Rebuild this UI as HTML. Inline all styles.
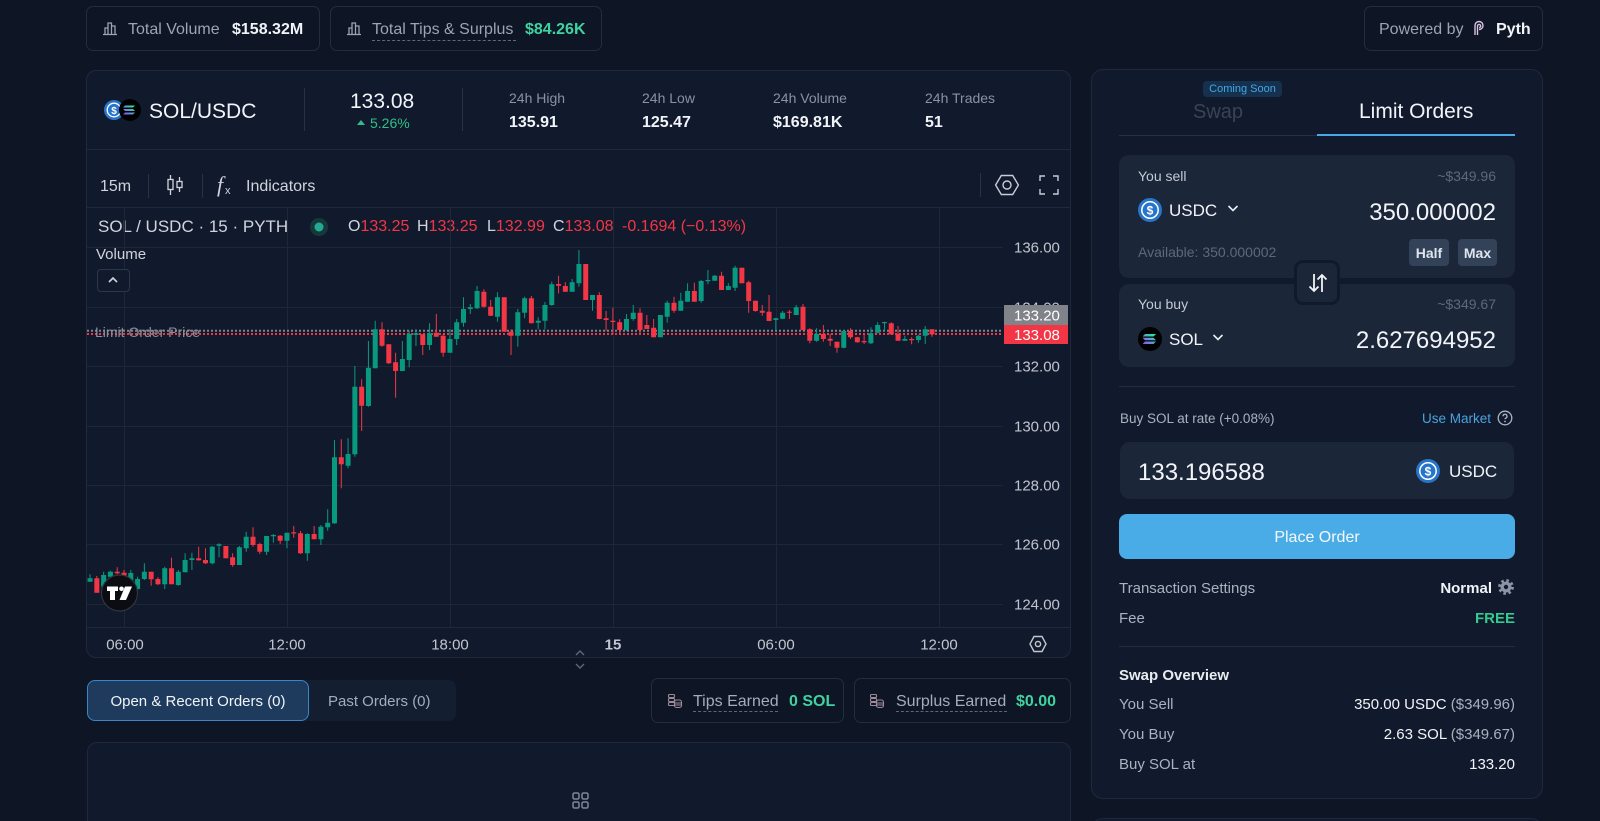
<!DOCTYPE html>
<html><head><meta charset="utf-8">
<style>
*{box-sizing:border-box;margin:0;padding:0}
html,body{width:1600px;height:821px;overflow:hidden;background:#0e1525}
body{font-family:"Liberation Sans",Arial,sans-serif;color:#e8ecf1}
#root{position:relative;width:1600px;height:821px;overflow:hidden;background:#0e1525}
.a{position:absolute}
.t{position:absolute;white-space:nowrap;line-height:20px;height:20px}
.box{position:absolute;border:1px solid #222d40;border-radius:7px}
.card{position:absolute;border:1px solid #1f293b;background:#111a2c;border-radius:10px}
.hl{position:absolute;height:1px;background:#1f293b}
.vl{position:absolute;width:1px;background:#283246}
.r{text-align:right}
</style></head><body><div id="root">

<!-- top stat boxes -->
<div class="box" style="left:86px;top:6px;width:234px;height:45px"></div>
<svg class="a" style="left:102px;top:20px" width="16" height="16" viewBox="0 0 16 16"><path d="M1 14.5h14M3 14V8h3v6M6 14V3h3.5v11M9.5 14V6H13v8" fill="none" stroke="#9aa5b5" stroke-width="1.3"/></svg>
<div class="t" style="left:128px;top:20px;font-size:16px;color:#9aa5b5">Total Volume</div>
<div class="t" style="left:232px;top:20px;font-size:16px;font-weight:bold;color:#f1f4f8">$158.32M</div>

<div class="box" style="left:330px;top:6px;width:272px;height:45px"></div>
<svg class="a" style="left:346px;top:20px" width="16" height="16" viewBox="0 0 16 16"><path d="M1 14.5h14M3 14V8h3v6M6 14V3h3.5v11M9.5 14V6H13v8" fill="none" stroke="#9aa5b5" stroke-width="1.3"/></svg>
<div class="t" style="left:372px;top:20px;font-size:16px;color:#9aa5b5">Total Tips &amp; Surplus</div>
<div class="a" style="left:372px;top:40px;width:144px;border-top:1px dashed #5d6878"></div>
<div class="t" style="left:525px;top:20px;font-size:16px;font-weight:bold;color:#3fd3a0">$84.26K</div>

<div class="box" style="left:1364px;top:6px;width:179px;height:45px"></div>
<div class="t" style="left:1379px;top:20px;font-size:16px;color:#9aa5b5">Powered by</div>
<svg class="a" style="left:1472px;top:20px" width="14" height="16" viewBox="0 0 14 16"><path d="M3 15V5.5a4 4 0 1 1 4 4M5.5 15V6a1.6 1.6 0 1 1 1.6 1.6" fill="none" stroke="#d7c3df" stroke-width="1.4"/></svg>
<div class="t" style="left:1496px;top:20px;font-size:16px;font-weight:bold;color:#f1f4f8">Pyth</div>

<!-- chart card -->
<div class="card" style="left:86px;top:70px;width:985px;height:588px"></div>
<div class="hl" style="left:87px;top:149px;width:983px"></div>
<div class="hl" style="left:87px;top:207px;width:983px"></div>

<svg class="a" style="left:100px;top:96px" width="44" height="28" viewBox="0 0 44 28">
<defs><linearGradient id="sg" x1="0" y1="1" x2="1" y2="0"><stop offset="0" stop-color="#9945ff"/><stop offset="1" stop-color="#19fb9b"/></linearGradient></defs>
<circle cx="14" cy="14" r="10" fill="#2775ca"/><circle cx="14" cy="14" r="6.8" fill="none" stroke="#fff" stroke-width="1.3"/>
<text x="14" y="18" font-size="10" font-weight="bold" fill="#fff" text-anchor="middle" font-family="Liberation Sans">$</text>
<circle cx="30" cy="14" r="11" fill="#000"/>
<path d="M25 9.5h10l-2 2H23zM23 13h10l2 2H25zM25 16.5h10l-2 2H23z" fill="url(#sg)"/>
</svg>
<div class="t" style="left:149px;top:101px;line-height:22px;height:22px;font-size:21px;color:#f1f4f8">SOL/USDC</div>
<div class="vl" style="left:304px;top:88px;height:43px"></div>
<div class="t" style="left:350px;top:91px;line-height:22px;height:22px;font-size:21px;color:#f1f4f8">133.08</div>
<svg class="a" style="left:356px;top:118px" width="10" height="8" viewBox="0 0 10 8"><path d="M1 7L5 2L9 7z" fill="#2fbf89"/></svg>
<div class="t" style="left:370px;top:113px;font-size:14px;color:#2fbf89">5.26%</div>
<div class="vl" style="left:462px;top:88px;height:43px"></div>

<div class="t" style="left:509px;top:88px;font-size:14px;color:#8792a4">24h High</div>
<div class="t" style="left:509px;top:113px;font-size:16px;font-weight:bold;color:#f1f4f8">135.91</div>
<div class="t" style="left:642px;top:88px;font-size:14px;color:#8792a4">24h Low</div>
<div class="t" style="left:642px;top:113px;font-size:16px;font-weight:bold;color:#f1f4f8">125.47</div>
<div class="t" style="left:773px;top:88px;font-size:14px;color:#8792a4">24h Volume</div>
<div class="t" style="left:773px;top:113px;font-size:16px;font-weight:bold;color:#f1f4f8">$169.81K</div>
<div class="t" style="left:925px;top:88px;font-size:14px;color:#8792a4">24h Trades</div>
<div class="t" style="left:925px;top:113px;font-size:16px;font-weight:bold;color:#f1f4f8">51</div>

<!-- toolbar -->
<div class="t" style="left:100px;top:177px;font-size:16px;color:#d1d4dc">15m</div>
<div class="vl" style="left:148px;top:174px;height:24px;background:#2a3345"></div>
<svg class="a" style="left:165px;top:173px" width="20" height="24" viewBox="0 0 20 24"><path d="M5.5 2v20M14.5 4v15" stroke="#d1d4dc" stroke-width="1.3"/><rect x="3" y="6.5" width="5" height="10" fill="#111a2c" stroke="#d1d4dc" stroke-width="1.3"/><rect x="12" y="8.5" width="5" height="6" fill="#111a2c" stroke="#d1d4dc" stroke-width="1.3"/></svg>
<div class="vl" style="left:202px;top:174px;height:24px;background:#2a3345"></div>
<div class="t" style="left:217px;top:172px;line-height:26px;height:26px;font-size:22px;font-style:italic;font-family:'Liberation Serif',serif;color:#d1d4dc">f</div>
<div class="t" style="left:225px;top:181px;font-size:11px;color:#d1d4dc">x</div>
<div class="t" style="left:246px;top:177px;font-size:16px;color:#d1d4dc">Indicators</div>
<div class="vl" style="left:980px;top:173px;height:24px;background:#2a3345"></div>
<svg class="a" style="left:994px;top:172px" width="26" height="26" viewBox="0 0 26 26"><path d="M7.3 3.5h11.4l5.7 9.5-5.7 9.5H7.3L1.6 13z" fill="none" stroke="#c8ccd4" stroke-width="1.4"/><circle cx="13" cy="13" r="4" fill="none" stroke="#c8ccd4" stroke-width="1.4"/></svg>
<svg class="a" style="left:1039px;top:175px" width="20" height="20" viewBox="0 0 20 20"><path d="M1 6V1h5M14 1h5v5M19 14v5h-5M6 19H1v-5" fill="none" stroke="#c8ccd4" stroke-width="1.4"/></svg>

<!-- legend -->
<div class="t" style="left:98px;top:217px;font-size:17px;color:#d1d4dc">SOL / USDC · 15 · PYTH</div>
<svg class="a" style="left:309px;top:217px" width="20" height="20" viewBox="0 0 20 20"><circle cx="10" cy="10" r="9" fill="#17383a"/><circle cx="10" cy="10" r="4.5" fill="#22ab94"/></svg>
<div class="t" style="left:348px;top:217px;font-size:16px;color:#d1d4dc">O<span style="color:#f23645">133.25</span></div>
<div class="t" style="left:417px;top:217px;font-size:16px;color:#d1d4dc">H<span style="color:#f23645">133.25</span></div>
<div class="t" style="left:487px;top:217px;font-size:16px;color:#d1d4dc">L<span style="color:#f23645">132.99</span></div>
<div class="t" style="left:553px;top:217px;font-size:16px;color:#d1d4dc">C<span style="color:#f23645">133.08</span></div>
<div class="t" style="left:622px;top:217px;font-size:16px;color:#f23645">-0.1694 (−0.13%)</div>

<!-- chart svg -->
<svg class="a" style="left:87px;top:208px" width="983" height="449" viewBox="87 208 983 449">
<defs><clipPath id="pc"><rect x="87" y="208" width="916" height="419"/></clipPath></defs>
<g stroke="#1e2737" stroke-width="1">
<path d="M87 247.5H1003M87 307.5H1003M87 366.5H1003M87 426.5H1003M87 485.5H1003M87 544.5H1003M87 604.5H1003"/>
<path d="M124.5 208V627M287.5 208V627M450.5 208V627M613.5 208V627M776.5 208V627M939.5 208V627"/>
</g>
<path d="M87 627.5H1070" stroke="#1f293b"/>
<g clip-path="url(#pc)">
<path d="M87 330.7H1003" stroke="#80848e" stroke-width="2" stroke-dasharray="2 2"/>
<path d="M87 334H1003" stroke="#f23645" stroke-width="2" stroke-dasharray="2 2"/>
<path stroke="#089981" stroke-width="1" fill="none" d="M90.05 574.3V581.7M103.63 571.7V588.3M110.42 570.7V576.7M130.79 570V583M137.58 576.7V590M144.37 563.3V580M164.74 566.7V589M178.32 570V585.7M185.11 553.3V572.3M191.9 552.7V570M212.27 546V564.3M219.06 543.3V557.3M239.43 546V565M246.22 531.7V551.7M266.59 536V555M273.38 534V542.7M286.96 532.7V548.3M307.33 533.3V560.7M320.91 525V545M327.7 509.3V530.7M334.49 440V524M348.07 438.3V468.3M354.86 366V456.7M368.44 341V406.7M375.23 320.7V368.3M402.39 341V371M409.18 330.7V367.3M415.97 329.3V346M429.55 323.3V350M449.92 329.3V352.7M456.71 319V345M463.5 297.3V326.7M470.29 304V314M477.08 286V309M497.45 292.3V321.7M517.82 309V346.7M524.61 296.7V318.3M538.19 317.3V329.3M544.98 302V329.3M551.77 281.7V305.7M572.14 279V291.7M578.93 250V286.7M592.51 295V310.7M626.46 314V330.7M633.25 305V320.7M660.41 315V337.3M667.2 300.7V322.7M680.78 292.7V310.7M687.57 283.3V301.7M701.15 280V302.7M707.94 270V284.3M714.73 275V280.7M728.31 283.3V290M735.1 265.7V291M775.84 317.7V330.7M782.63 311V319.3M796.21 305V315M816.58 328.3V341.7M843.74 330V348.3M870.9 327.3V344M877.69 322.3V333.3M884.48 321.7V331.7M904.85 335.7V340.7M918.43 335V342.7M925.22 326V344"/>
<path stroke="#089981" stroke-width="5" fill="none" d="M90.05 578.3V581.7M103.63 575V586.7M110.42 571.7V576.7M130.79 573V580M137.58 579V589M144.37 571.7V579M164.74 568.3V584.3M178.32 571.7V585M185.11 560V572.3M191.9 558.3V560M212.27 546.7V563.3M219.06 544.3V545.7M239.43 547.3V565M246.22 536.7V548.3M266.59 536V551.7M273.38 535V536.2M286.96 532.7V540.7M307.33 534V553.3M320.91 526.7V539.3M327.7 522.7V527.3M334.49 457.3V523.3M348.07 454V465.7M354.86 386.7V454.3M368.44 367.7V406M375.23 329.3V368.3M402.39 359V371M409.18 334V360M415.97 333.3V335M429.55 333.3V345M449.92 339V352.7M456.71 322.3V339M463.5 309V322.7M470.29 307.3V309M477.08 291V308.3M497.45 297.3V316.7M517.82 312.3V335.7M524.61 298.3V312.7M538.19 320.7V322.7M544.98 305V320.7M551.77 284.3V305M572.14 282.3V291.7M578.93 264V283.3M592.51 295V300M626.46 319V330M633.25 312.7V319M660.41 315V337.3M667.2 302.7V316.7M680.78 300.7V310.7M687.57 291V301.7M701.15 281V301M707.94 280V281.2M714.73 275.7V280.7M728.31 286V290M735.1 267.7V287.7M775.84 318.3V320M782.63 312.7V318.7M796.21 307.3V315M816.58 334V340.7M843.74 331V347.7M870.9 333.3V343.3M877.69 325V332.7M884.48 322V323.2M904.85 339V340.7M918.43 335.7V340M925.22 329.3V335.7"/>
<path stroke="#f23645" stroke-width="1" fill="none" d="M96.84 576V592.7M117.21 567.3V574.3M124 570V578.3M151.16 571.7V585.7M157.95 577.3V585M171.53 557.7V584.3M198.69 546.7V560.7M205.48 548.3V564M225.85 546V558.3M232.64 553.3V566.7M253.01 527.3V546.7M259.8 542.7V554M280.17 535V544M293.75 526V537.7M300.54 531V554M314.12 526V539.3M341.28 439.3V488.3M361.65 379.3V431M382.02 322.3V346.7M388.81 344.3V364M395.6 352.7V397.7M422.76 334.3V355M436.34 314V336.7M443.13 334V356.7M483.87 289.3V307.7M490.66 300V316M504.24 297.3V331.7M511.03 329.3V355M531.4 296V323.3M558.56 275.7V293.3M565.35 282.3V291.7M585.72 264V300M599.3 292.3V319.3M606.09 311V330.7M612.88 307.7V334M619.67 319.3V334M640.04 308.3V333.3M646.83 315V329M653.62 319V337.3M673.99 296.7V312.7M694.36 282.7V301.7M721.52 271.7V290M741.89 267.7V283.3M748.68 280.7V312.7M755.47 300.7V311.7M762.26 305V315.7M769.05 295V321M789.42 310V319M803 304V330.7M809.79 328.3V343.3M823.37 325V341.7M830.16 334V346M836.95 341.7V352.7M850.53 328.3V339M857.32 336.7V342.7M864.11 334.3V344M891.27 322.3V335M898.06 326V340.7M911.64 337.3V344.3M932.01 329.3V336.7"/>
<path stroke="#f23645" stroke-width="5" fill="none" d="M96.84 578.3V592.7M117.21 571.7V573.3M124 572.7V576.7M151.16 571.7V579.3M157.95 579V584.3M171.53 568.3V584.3M198.69 558.3V560.3M205.48 560V563.3M225.85 546V558.3M232.64 557.3V565M253.01 536.7V545M259.8 544V551.7M280.17 535.7V540.7M293.75 532.3V533.5M300.54 533.3V553.3M314.12 534V539.3M341.28 457.3V464.3M361.65 386.7V405.7M382.02 329.3V345.7M388.81 344.3V363.3M395.6 362.3V371M422.76 334.3V345M436.34 332.7V336.7M443.13 335.7V352.7M483.87 291.7V306.7M490.66 306.7V315.7M504.24 297.3V331.7M511.03 331.7V335.7M531.4 298.3V323.3M558.56 284V285.7M565.35 286V291.7M585.72 264V300M599.3 295V319M606.09 318.3V320M612.88 320.7V322M619.67 322.3V330M640.04 312.7V330M646.83 325V329M653.62 327.7V337.3M673.99 302.7V310.7M694.36 291V301.7M721.52 275.7V290M741.89 267.7V283.3M748.68 282.3V301M755.47 300.7V311M762.26 310.7V312.7M769.05 311.7V321M789.42 311.7V312.7M803 306.7V330M809.79 329.3V340.7M823.37 334V339M830.16 338.7V340.7M836.95 341.7V347.7M850.53 331V337.3M857.32 337.3V342.3M864.11 341V342.3M891.27 323.3V334.3M898.06 334V340.7M911.64 339V340.2M932.01 329.3V334.3"/>
</g>
<text x="95" y="337" font-family="Liberation Sans" font-size="14" fill="#8a8f99">Limit Order Price</text>
<g font-family="Liberation Sans" font-size="15" fill="#c0c4cc">
<text x="1014" y="252.5">136.00</text>
<text x="1014" y="312.5">134.00</text>
<text x="1014" y="371.5">132.00</text>
<text x="1014" y="431.5">130.00</text>
<text x="1014" y="490.5">128.00</text>
<text x="1014" y="549.5">126.00</text>
<text x="1014" y="609.5">124.00</text>
</g>
<rect x="1004" y="305" width="64" height="20" fill="#808389"/>
<rect x="1004" y="325" width="64" height="19" fill="#f23645"/>
<text x="1014" y="320.5" font-family="Liberation Sans" font-size="15" fill="#fff">133.20</text>
<text x="1014" y="340" font-family="Liberation Sans" font-size="15" fill="#fff">133.08</text>
<!-- TV logo -->
<circle cx="119.5" cy="593" r="18" fill="#0b0d12" stroke="#30363f" stroke-width="1.2"/>
<path d="M107 586.5h11v4.5h-3v9h-5v-9h-3z" fill="#fff"/>
<circle cx="121.5" cy="588.8" r="2.3" fill="#fff"/>
<path d="M125 586.5h7l-6 13.5h-6.5z" fill="#fff"/>
<!-- time axis -->
<g font-family="Liberation Sans" font-size="15" fill="#c2c6ce" text-anchor="middle">
<text x="125" y="649.5">06:00</text>
<text x="287" y="649.5">12:00</text>
<text x="450" y="649.5">18:00</text>
<text x="613" y="649.5" font-weight="bold">15</text>
<text x="776" y="649.5">06:00</text>
<text x="939" y="649.5">12:00</text>
</g>
<path d="M1034 636.5h8l4 7.5-4 7.5h-8l-4-7.5z" fill="none" stroke="#c2c6ce" stroke-width="1.4"/>
<circle cx="1038" cy="644" r="2.6" fill="none" stroke="#c2c6ce" stroke-width="1.4"/>
</svg>

<!-- Volume label & button -->
<div class="t" style="left:96px;top:245px;font-size:15px;color:#d1d4dc">Volume</div>
<div class="a" style="left:97px;top:269px;width:33px;height:23px;border:1px solid #2e3748;border-radius:4px;background:#111a2c"></div>
<svg class="a" style="left:107px;top:276px" width="12" height="8" viewBox="0 0 12 8"><path d="M2 6l4-4 4 4" fill="none" stroke="#d1d4dc" stroke-width="1.6"/></svg>

<!-- chevrons under chart -->
<svg class="a" style="left:574px;top:649px" width="12" height="22" viewBox="0 0 12 22"><path d="M2 6l4-4 4 4M2 15l4 4 4-4" fill="none" stroke="#5d6878" stroke-width="1.4"/></svg>

<!-- order tabs -->
<div class="a" style="left:87px;top:680px;width:369px;height:41px;background:#141e31;border-radius:8px"></div>
<div class="a" style="left:87px;top:680px;width:222px;height:41px;background:#1e3a5c;border:1px solid #3b86c6;border-radius:8px"></div>
<div class="t" style="left:87px;top:692px;width:222px;text-align:center;font-size:15px;color:#f1f4f8">Open &amp; Recent Orders (0)</div>
<div class="t" style="left:328px;top:692px;font-size:15px;color:#a3adbb">Past Orders (0)</div>

<div class="box" style="left:651px;top:678px;width:193px;height:45px"></div>
<svg class="a" style="left:667px;top:693px" width="16" height="16" viewBox="0 0 16 16"><g fill="none" stroke="#9d8a9a" stroke-width="1.1"><rect x="1.5" y="1.5" width="6" height="3" rx="1"/><rect x="1.5" y="5.5" width="6" height="3" rx="1"/><rect x="1.5" y="9.5" width="6" height="3" rx="1"/><rect x="7.5" y="7" width="7" height="7.5" rx="2"/><path d="M8 10h6M8 12h6"/></g></svg>
<div class="t" style="left:693px;top:692px;font-size:16px;color:#a3adbb">Tips Earned</div>
<div class="a" style="left:693px;top:711px;width:85px;border-top:1px dashed #5d6878"></div>
<div class="t" style="left:789px;top:692px;font-size:16px;font-weight:bold;color:#3fd3a0">0 SOL</div>

<div class="box" style="left:854px;top:678px;width:217px;height:45px"></div>
<svg class="a" style="left:869px;top:693px" width="16" height="16" viewBox="0 0 16 16"><g fill="none" stroke="#9d8a9a" stroke-width="1.1"><rect x="1.5" y="1.5" width="6" height="3" rx="1"/><rect x="1.5" y="5.5" width="6" height="3" rx="1"/><rect x="1.5" y="9.5" width="6" height="3" rx="1"/><rect x="7.5" y="7" width="7" height="7.5" rx="2"/><path d="M8 10h6M8 12h6"/></g></svg>
<div class="t" style="left:896px;top:692px;font-size:16px;color:#a3adbb">Surplus Earned</div>
<div class="a" style="left:896px;top:711px;width:111px;border-top:1px dashed #5d6878"></div>
<div class="t" style="left:1016px;top:692px;font-size:16px;font-weight:bold;color:#3fd3a0">$0.00</div>

<!-- bottom card -->
<div class="card" style="left:87px;top:742px;width:984px;height:100px"></div>
<svg class="a" style="left:572px;top:792px" width="17" height="17" viewBox="0 0 17 17"><g fill="none" stroke="#7d8797" stroke-width="1.5"><rect x="1" y="1" width="6" height="6" rx="1.5"/><rect x="10" y="1" width="6" height="6" rx="1.5"/><rect x="1" y="10" width="6" height="6" rx="1.5"/><rect x="10" y="10" width="6" height="6" rx="1.5"/></g></svg>

<!-- right panel -->
<div class="card" style="left:1091px;top:69px;width:452px;height:730px;border-radius:12px"></div>
<div class="card" style="left:1091px;top:818px;width:452px;height:30px;border-radius:12px"></div>
<div class="a" style="left:1203px;top:81px;width:79px;height:16px;background:#16314d;border-radius:4px"></div>
<div class="t" style="left:1203px;top:79px;width:79px;text-align:center;font-size:11px;color:#43a6e8">Coming Soon</div>
<div class="t" style="left:1168px;top:101px;width:100px;text-align:center;line-height:22px;height:22px;font-size:20px;color:#394356">Swap</div>
<div class="t" style="left:1359px;top:101px;line-height:22px;height:22px;font-size:21px;color:#f1f4f8">Limit Orders</div>
<div class="a" style="left:1119px;top:135px;width:198px;height:1px;background:#243045"></div>
<div class="a" style="left:1317px;top:134px;width:198px;height:2px;background:#4aa8e6"></div>

<!-- you sell -->
<div class="a" style="left:1119px;top:155px;width:396px;height:123px;background:#1c2639;border-radius:10px"></div>
<div class="t" style="left:1138px;top:166px;font-size:14px;color:#c2c9d3">You sell</div>
<div class="t r" style="right:104px;top:166px;font-size:14px;color:#5c687b">~$349.96</div>
<svg class="a" style="left:1138px;top:198px" width="24" height="24" viewBox="0 0 24 24"><circle cx="12" cy="12" r="12" fill="#2775ca"/><circle cx="12" cy="12" r="8.2" fill="none" stroke="#fff" stroke-width="1.5"/><text x="12" y="16.5" font-size="12" font-weight="bold" fill="#fff" text-anchor="middle" font-family="Liberation Sans">$</text></svg>
<div class="t" style="left:1169px;top:201px;font-size:17px;color:#f1f4f8">USDC</div>
<svg class="a" style="left:1227px;top:203px" width="12" height="10" viewBox="0 0 12 10"><path d="M1.5 3l4.5 4.5L10.5 3" fill="none" stroke="#e8ecf1" stroke-width="1.6"/></svg>
<div class="t r" style="right:104px;top:200px;line-height:26px;height:26px;font-size:24px;color:#f1f4f8">350.000002</div>
<div class="t" style="left:1138px;top:242px;font-size:14px;color:#5c687b">Available: 350.000002</div>
<div class="a" style="left:1409px;top:239px;width:40px;height:27px;background:#344259;border-radius:4px"></div>
<div class="t" style="left:1409px;top:243px;width:40px;text-align:center;font-size:14px;font-weight:bold;color:#dfe5ec">Half</div>
<div class="a" style="left:1458px;top:239px;width:39px;height:27px;background:#344259;border-radius:4px"></div>
<div class="t" style="left:1458px;top:243px;width:39px;text-align:center;font-size:14px;font-weight:bold;color:#dfe5ec">Max</div>

<!-- you buy -->
<div class="a" style="left:1119px;top:284px;width:396px;height:83px;background:#1c2639;border-radius:10px"></div>
<div class="t" style="left:1138px;top:294px;font-size:14px;color:#c2c9d3">You buy</div>
<div class="t r" style="right:104px;top:294px;font-size:14px;color:#5c687b">~$349.67</div>
<svg class="a" style="left:1138px;top:327px" width="24" height="24" viewBox="0 0 24 24"><circle cx="12" cy="12" r="12" fill="#000"/><path d="M7 7h11l-2.5 2.5H4.5zM4.5 10.8h11l2.5 2.5H7zM7 14.5h11l-2.5 2.5H4.5z" fill="url(#sg)"/></svg>
<div class="t" style="left:1169px;top:330px;font-size:17px;color:#f1f4f8">SOL</div>
<svg class="a" style="left:1212px;top:332px" width="12" height="10" viewBox="0 0 12 10"><path d="M1.5 3l4.5 4.5L10.5 3" fill="none" stroke="#e8ecf1" stroke-width="1.6"/></svg>
<div class="t r" style="right:104px;top:328px;line-height:26px;height:26px;font-size:24px;color:#f1f4f8">2.627694952</div>

<!-- swap arrows button -->
<div class="a" style="left:1294px;top:260px;width:46px;height:45px;background:#1c2639;border:3px solid #111a2c;border-radius:9px"></div>
<svg class="a" style="left:1307px;top:272px" width="22" height="22" viewBox="0 0 22 22"><path d="M7 2v17M2.5 14.5L7 19l4.5-4.5M15 20V3M10.5 7.5L15 3l4.5 4.5" fill="none" stroke="#f1f4f8" stroke-width="1.8"/></svg>

<div class="a" style="left:1119px;top:386px;width:396px;height:1px;background:#232d40"></div>
<div class="t" style="left:1120px;top:409px;font-size:13.5px;color:#a9b2c0">Buy SOL at rate (+0.08%)</div>
<div class="t r" style="right:109px;top:409px;font-size:13.5px;color:#4aa3e0">Use Market</div>
<svg class="a" style="left:1497px;top:410px" width="16" height="16" viewBox="0 0 16 16"><circle cx="8" cy="8" r="6.8" fill="none" stroke="#aab3c0" stroke-width="1.3"/><path d="M6 6.3a2 2 0 1 1 2.6 1.9c-.5.2-.6.5-.6 1.1" fill="none" stroke="#aab3c0" stroke-width="1.3"/><circle cx="8" cy="11.5" r=".9" fill="#aab3c0"/></svg>

<div class="a" style="left:1120px;top:442px;width:394px;height:57px;background:#1c2639;border-radius:10px"></div>
<div class="t" style="left:1138px;top:460px;line-height:26px;height:26px;font-size:24px;color:#f1f4f8">133.196588</div>
<svg class="a" style="left:1416px;top:459px" width="24" height="24" viewBox="0 0 24 24"><circle cx="12" cy="12" r="12" fill="#2775ca"/><circle cx="12" cy="12" r="8.2" fill="none" stroke="#fff" stroke-width="1.5"/><text x="12" y="16.5" font-size="12" font-weight="bold" fill="#fff" text-anchor="middle" font-family="Liberation Sans">$</text></svg>
<div class="t" style="left:1449px;top:462px;font-size:17px;color:#f1f4f8">USDC</div>

<div class="a" style="left:1119px;top:514px;width:396px;height:45px;background:#4aace6;border-radius:8px"></div>
<div class="t" style="left:1119px;top:528px;width:396px;text-align:center;font-size:16px;color:#f4f8fc">Place Order</div>

<div class="t" style="left:1119px;top:579px;font-size:15px;color:#a9b2c0">Transaction Settings</div>
<div class="t r" style="right:108px;top:579px;font-size:15px;font-weight:bold;color:#f1f4f8">Normal</div>
<svg class="a" style="left:1498px;top:579px" width="16" height="16" viewBox="0 0 16 16"><circle cx="8" cy="8" r="5.5" fill="#8b95a5"/><circle cx="8" cy="8" r="6.6" fill="none" stroke="#8b95a5" stroke-width="2.6" stroke-dasharray="2.6 2.6"/><circle cx="8" cy="8" r="2.2" fill="#111a2c"/></svg>
<div class="t" style="left:1119px;top:609px;font-size:15px;color:#a9b2c0">Fee</div>
<div class="t r" style="right:85px;top:609px;font-size:15px;font-weight:bold;color:#34c98e">FREE</div>
<div class="a" style="left:1119px;top:646px;width:396px;height:1px;background:#232d40"></div>

<div class="t" style="left:1119px;top:666px;font-size:15px;font-weight:bold;color:#e8ecf1">Swap Overview</div>
<div class="t" style="left:1119px;top:695px;font-size:15px;color:#a9b2c0">You Sell</div>
<div class="t r" style="right:85px;top:695px;font-size:15px;color:#f1f4f8">350.00 USDC <span style="color:#a9b2c0">($349.96)</span></div>
<div class="t" style="left:1119px;top:725px;font-size:15px;color:#a9b2c0">You Buy</div>
<div class="t r" style="right:85px;top:725px;font-size:15px;color:#f1f4f8">2.63 SOL <span style="color:#a9b2c0">($349.67)</span></div>
<div class="t" style="left:1119px;top:755px;font-size:15px;color:#a9b2c0">Buy SOL at</div>
<div class="t r" style="right:85px;top:755px;font-size:15px;color:#f1f4f8">133.20</div>

</div></body></html>
